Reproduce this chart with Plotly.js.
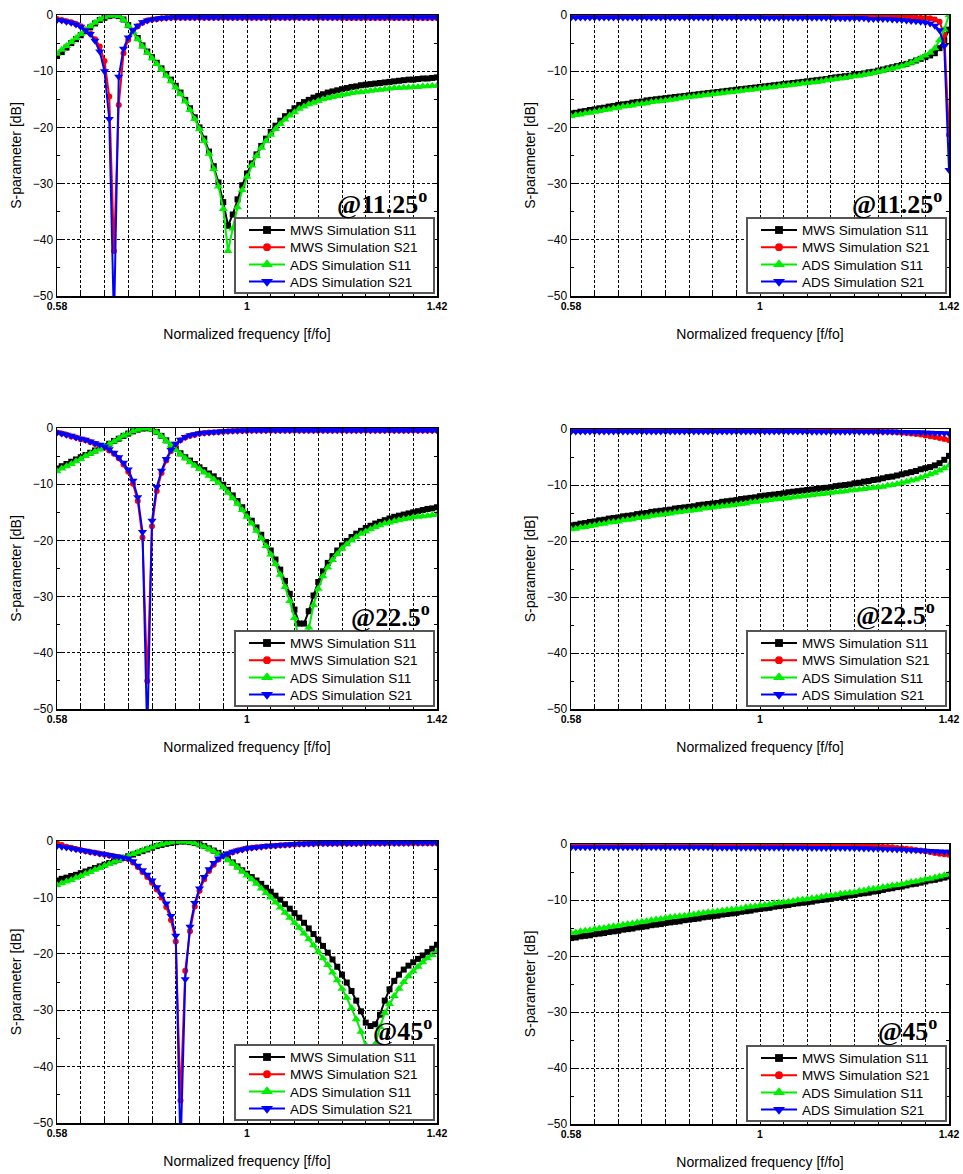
<!DOCTYPE html>
<html><head><meta charset="utf-8">
<script src="https://cdn.plot.ly/plotly-3.0.1.min.js"></script>
<style>html,body{margin:0;padding:0;background:#fff}#chart{width:963px;height:1174px}</style>
</head><body><div id="chart"></div>
<script>
// ---------------- DATA ----------------
const freq = [
0.58,0.5905,0.601,0.6115,0.622,0.6325,0.643,0.6535,0.664,0.6745,
0.685,0.6955,0.706,0.7165,0.727,0.7375,0.748,0.7585,0.769,0.7795,
0.79,0.8005,0.811,0.8215,0.832,0.8425,0.853,0.8635,0.874,0.8845,
0.895,0.9055,0.916,0.9265,0.937,0.9475,0.958,0.9685,0.979,0.9895,
1.0,1.0105,1.021,1.0315,1.042,1.0525,1.063,1.0735,1.084,1.0945,
1.105,1.1155,1.126,1.1365,1.147,1.1575,1.168,1.1785,1.189,1.1995,
1.21,1.2205,1.231,1.2415,1.252,1.2625,1.273,1.2835,1.294,1.3045,
1.315,1.3255,1.336,1.3465,1.357,1.3675,1.378,1.3885,1.399,1.4095,
1.42];
const freqTickVals = [0.58, 1, 1.42];
const freqTickText = ['<b>0.58</b>', '<b>1</b>', '<b>1.42</b>'];
const freqGridStep = 0.0525;
const seriesNames = ['MWS Simulation S11','MWS Simulation S21','ADS Simulation S11','ADS Simulation S21'];
const panelLabels = ['@11.25','@11.25','@22.5','@22.5','@45','@45'];

// Panel 1 : 11.25 deg (left)
const p1MwsS11 = [
-7.3,-6.6,-5.8,-5.0,-4.3,-3.6,-2.9,-2.2,-1.5,-0.9,
-0.5,-0.2,-0.05,-0.2,-0.8,-1.8,-2.8,-4.1,-5.4,-6.5,
-7.5,-8.5,-9.5,-10.5,-11.5,-12.6,-13.8,-15.1,-16.6,-18.2,
-20.0,-22.0,-24.3,-26.9,-29.8,-33.3,-37.5,-35.5,-32.8,-30.3,
-28.2,-26.4,-24.8,-23.3,-22.0,-20.8,-19.7,-18.8,-18.0,-17.3,
-16.6,-16.0,-15.5,-15.1,-14.7,-14.4,-14.1,-13.8,-13.6,-13.4,
-13.2,-13.0,-12.8,-12.7,-12.5,-12.4,-12.3,-12.2,-12.1,-12.0,
-11.9,-11.8,-11.7,-11.6,-11.5,-11.5,-11.4,-11.3,-11.3,-11.2,
-11.1];
const p1MwsS21 = [
-0.7,-0.9,-1.1,-1.3,-1.6,-2.0,-2.6,-3.3,-4.3,-5.6,
-8.2,-14.5,-42.0,-16.0,-6.8,-4.4,-2.9,-2.0,-1.4,-1.0,
-0.8,-0.7,-0.6,-0.55,-0.5,-0.5,-0.5,-0.5,-0.5,-0.5,
-0.5,-0.5,-0.5,-0.5,-0.5,-0.5,-0.5,-0.5,-0.5,-0.5,
-0.5,-0.5,-0.5,-0.5,-0.5,-0.5,-0.5,-0.5,-0.5,-0.5,
-0.5,-0.5,-0.5,-0.5,-0.5,-0.5,-0.5,-0.5,-0.5,-0.5,
-0.55,-0.55,-0.55,-0.55,-0.55,-0.55,-0.55,-0.55,-0.55,-0.55,
-0.55,-0.55,-0.55,-0.55,-0.55,-0.55,-0.55,-0.55,-0.55,-0.55,
-0.55];
const p1AdsS11 = [
-6.9,-6.2,-5.5,-4.8,-4.1,-3.4,-2.7,-2.0,-1.4,-0.8,
-0.4,-0.15,-0.05,-0.2,-0.9,-1.9,-3.0,-4.3,-5.6,-6.7,
-7.7,-8.7,-9.7,-10.8,-11.8,-12.9,-14.1,-15.4,-16.9,-18.5,
-20.3,-22.4,-24.7,-27.4,-30.5,-34.5,-42.0,-38.0,-34.2,-31.2,
-28.8,-26.8,-25.1,-23.6,-22.4,-21.3,-20.3,-19.4,-18.6,-17.9,
-17.3,-16.7,-16.3,-15.9,-15.6,-15.3,-15.0,-14.8,-14.6,-14.4,
-14.2,-14.1,-13.9,-13.8,-13.7,-13.6,-13.5,-13.4,-13.3,-13.2,
-13.1,-13.0,-13.0,-12.9,-12.9,-12.8,-12.8,-12.7,-12.7,-12.6,
-12.6];
const p1AdsS21 = [
-0.9,-1.0,-1.2,-1.4,-1.7,-2.1,-2.7,-3.4,-4.6,-6.5,
-10.0,-18.5,-55.0,-11.0,-6.0,-4.0,-2.7,-1.9,-1.3,-1.0,
-0.8,-0.65,-0.55,-0.5,-0.45,-0.4,-0.4,-0.4,-0.4,-0.4,
-0.4,-0.4,-0.4,-0.4,-0.4,-0.4,-0.4,-0.4,-0.4,-0.4,
-0.4,-0.4,-0.4,-0.4,-0.4,-0.4,-0.4,-0.4,-0.4,-0.4,
-0.4,-0.4,-0.4,-0.4,-0.4,-0.4,-0.4,-0.4,-0.4,-0.4,
-0.4,-0.4,-0.4,-0.4,-0.4,-0.4,-0.4,-0.4,-0.4,-0.4,
-0.4,-0.4,-0.4,-0.4,-0.4,-0.4,-0.4,-0.4,-0.4,-0.4,
-0.4];

// Panel 2 : 11.25 deg (right)
const p2MwsS11 = [
-17.5,-17.4,-17.2,-17.1,-16.9,-16.8,-16.6,-16.5,-16.3,-16.2,
-16.0,-15.9,-15.8,-15.6,-15.5,-15.4,-15.2,-15.1,-15.0,-14.9,
-14.8,-14.7,-14.6,-14.5,-14.4,-14.3,-14.2,-14.1,-14.0,-13.9,
-13.8,-13.7,-13.6,-13.5,-13.4,-13.3,-13.2,-13.1,-13.0,-12.9,
-12.8,-12.7,-12.6,-12.5,-12.4,-12.3,-12.2,-12.1,-12.0,-11.9,
-11.8,-11.7,-11.6,-11.5,-11.4,-11.2,-11.1,-11.0,-10.9,-10.8,
-10.6,-10.5,-10.4,-10.2,-10.1,-9.9,-9.7,-9.5,-9.3,-9.1,
-8.9,-8.7,-8.4,-8.1,-7.8,-7.5,-7.2,-6.8,-5.9,-4.5,
-2.6];
const p2MwsS21 = [
-0.3,-0.3,-0.3,-0.3,-0.3,-0.3,-0.3,-0.3,-0.3,-0.3,
-0.3,-0.3,-0.3,-0.3,-0.3,-0.3,-0.3,-0.3,-0.3,-0.3,
-0.3,-0.3,-0.3,-0.3,-0.3,-0.3,-0.3,-0.3,-0.3,-0.3,
-0.3,-0.3,-0.3,-0.3,-0.3,-0.3,-0.3,-0.3,-0.3,-0.3,
-0.3,-0.3,-0.3,-0.3,-0.3,-0.3,-0.3,-0.3,-0.3,-0.3,
-0.3,-0.3,-0.3,-0.3,-0.3,-0.3,-0.3,-0.3,-0.3,-0.3,
-0.3,-0.35,-0.35,-0.35,-0.35,-0.35,-0.35,-0.35,-0.35,-0.35,
-0.35,-0.4,-0.4,-0.45,-0.5,-0.55,-0.6,-0.8,-1.2,-3.5,
-21.3];
const p2AdsS11 = [
-18.0,-17.8,-17.7,-17.5,-17.4,-17.2,-17.1,-16.9,-16.8,-16.6,
-16.5,-16.3,-16.2,-16.1,-15.9,-15.8,-15.7,-15.5,-15.4,-15.3,
-15.2,-15.1,-15.0,-14.8,-14.7,-14.6,-14.5,-14.4,-14.3,-14.2,
-14.1,-14.0,-13.9,-13.8,-13.7,-13.6,-13.5,-13.4,-13.3,-13.2,
-13.1,-13.0,-12.9,-12.8,-12.7,-12.6,-12.5,-12.4,-12.3,-12.2,
-12.1,-12.0,-11.9,-11.8,-11.6,-11.5,-11.4,-11.3,-11.2,-11.0,
-10.9,-10.8,-10.6,-10.5,-10.3,-10.1,-9.9,-9.7,-9.5,-9.3,
-9.1,-8.8,-8.5,-8.1,-7.7,-7.2,-6.7,-5.9,-4.5,-2.6,
0.0];
const p2AdsS21 = [
-0.45,-0.45,-0.45,-0.45,-0.45,-0.45,-0.45,-0.45,-0.45,-0.45,
-0.45,-0.45,-0.45,-0.45,-0.45,-0.45,-0.45,-0.45,-0.45,-0.45,
-0.45,-0.45,-0.45,-0.45,-0.45,-0.45,-0.45,-0.45,-0.45,-0.45,
-0.45,-0.45,-0.45,-0.45,-0.45,-0.45,-0.45,-0.45,-0.45,-0.45,
-0.45,-0.5,-0.5,-0.5,-0.5,-0.5,-0.5,-0.5,-0.5,-0.5,
-0.5,-0.5,-0.5,-0.5,-0.5,-0.5,-0.6,-0.6,-0.6,-0.6,
-0.6,-0.6,-0.6,-0.7,-0.7,-0.7,-0.7,-0.7,-0.8,-0.85,
-0.9,-1.0,-1.05,-1.1,-1.2,-1.35,-1.5,-1.9,-2.7,-5.5,
-27.6];

// Panel 3 : 22.5 deg (left)
const p3MwsS11 = [
-7.2,-6.8,-6.4,-6.0,-5.6,-5.2,-4.8,-4.4,-4.0,-3.6,
-3.2,-2.8,-2.3,-1.9,-1.4,-1.0,-0.6,-0.3,-0.1,-0.05,
-0.2,-0.7,-1.4,-2.2,-3.0,-3.7,-4.5,-5.2,-5.8,-6.4,
-7.0,-7.5,-8.1,-8.6,-9.3,-10.1,-11.0,-12.0,-13.0,-14.1,
-15.3,-16.5,-17.7,-19.0,-20.3,-21.8,-23.4,-25.2,-27.2,-29.5,
-32.3,-34.8,-34.8,-32.6,-29.8,-27.4,-25.5,-24.0,-22.8,-21.8,
-20.9,-20.1,-19.4,-18.8,-18.3,-17.8,-17.4,-17.0,-16.7,-16.4,
-16.1,-15.8,-15.6,-15.4,-15.2,-15.0,-14.8,-14.6,-14.4,-14.3,
-14.1];
const p3MwsS21 = [
-0.8,-1.0,-1.2,-1.5,-1.7,-2.0,-2.2,-2.5,-2.8,-3.1,
-3.5,-4.0,-4.6,-5.4,-6.5,-7.8,-9.9,-13.0,-19.5,-45.0,
-17.5,-11.2,-8.0,-5.8,-4.1,-3.0,-2.2,-1.7,-1.4,-1.2,
-1.0,-0.9,-0.8,-0.75,-0.7,-0.65,-0.6,-0.55,-0.5,-0.5,
-0.5,-0.45,-0.45,-0.45,-0.45,-0.45,-0.45,-0.45,-0.45,-0.45,
-0.45,-0.45,-0.45,-0.45,-0.45,-0.45,-0.45,-0.45,-0.45,-0.45,
-0.45,-0.45,-0.45,-0.45,-0.45,-0.45,-0.45,-0.45,-0.45,-0.45,
-0.45,-0.45,-0.45,-0.45,-0.45,-0.45,-0.45,-0.45,-0.45,-0.45,
-0.45];
const p3AdsS11 = [
-7.7,-7.2,-6.8,-6.4,-5.9,-5.5,-5.0,-4.6,-4.2,-3.8,
-3.3,-2.9,-2.4,-1.9,-1.4,-1.0,-0.6,-0.3,-0.1,-0.05,
-0.3,-0.8,-1.5,-2.3,-3.1,-3.9,-4.7,-5.4,-6.1,-6.7,
-7.3,-7.9,-8.5,-9.1,-9.8,-10.6,-11.5,-12.5,-13.5,-14.6,
-15.8,-17.0,-18.3,-19.6,-21.0,-22.5,-24.2,-26.1,-28.3,-30.8,
-33.8,-38.0,-40.0,-35.5,-31.5,-28.6,-26.4,-24.8,-23.5,-22.4,
-21.5,-20.7,-20.0,-19.4,-18.8,-18.4,-18.0,-17.6,-17.3,-17.0,
-16.8,-16.6,-16.4,-16.2,-16.1,-15.9,-15.8,-15.7,-15.6,-15.5,
-15.4];
const p3AdsS21 = [
-0.8,-1.0,-1.2,-1.4,-1.7,-1.9,-2.1,-2.4,-2.7,-3.0,
-3.3,-3.8,-4.4,-5.2,-6.2,-7.4,-9.4,-12.3,-18.5,-55.0,
-16.5,-10.5,-7.6,-5.5,-3.9,-2.8,-2.1,-1.6,-1.3,-1.1,
-0.95,-0.85,-0.8,-0.7,-0.65,-0.6,-0.55,-0.5,-0.5,-0.45,
-0.45,-0.4,-0.4,-0.4,-0.4,-0.4,-0.4,-0.4,-0.4,-0.4,
-0.4,-0.4,-0.4,-0.4,-0.4,-0.4,-0.4,-0.4,-0.4,-0.4,
-0.4,-0.4,-0.4,-0.4,-0.4,-0.4,-0.4,-0.4,-0.4,-0.4,
-0.4,-0.4,-0.4,-0.4,-0.4,-0.4,-0.4,-0.4,-0.4,-0.4,
-0.4];

// Panel 4 : 22.5 deg (right)
const p4MwsS11 = [
-17.2,-17.1,-16.9,-16.8,-16.6,-16.5,-16.3,-16.2,-16.0,-15.9,
-15.8,-15.6,-15.5,-15.4,-15.2,-15.1,-15.0,-14.8,-14.7,-14.6,
-14.5,-14.4,-14.2,-14.1,-14.0,-13.9,-13.8,-13.6,-13.5,-13.4,
-13.3,-13.2,-13.0,-12.9,-12.8,-12.7,-12.5,-12.4,-12.3,-12.2,
-12.0,-11.9,-11.8,-11.7,-11.6,-11.5,-11.3,-11.2,-11.1,-11.0,
-10.9,-10.8,-10.7,-10.6,-10.5,-10.4,-10.2,-10.1,-10.0,-9.9,
-9.7,-9.6,-9.4,-9.3,-9.1,-9.0,-8.8,-8.6,-8.5,-8.3,
-8.1,-7.9,-7.7,-7.5,-7.2,-7.0,-6.8,-6.5,-6.1,-5.5,
-4.8];
const p4MwsS21 = [
-0.3,-0.3,-0.3,-0.3,-0.3,-0.3,-0.3,-0.3,-0.3,-0.3,
-0.3,-0.3,-0.3,-0.3,-0.3,-0.3,-0.3,-0.3,-0.3,-0.3,
-0.3,-0.3,-0.3,-0.3,-0.3,-0.3,-0.3,-0.3,-0.3,-0.3,
-0.3,-0.3,-0.3,-0.3,-0.3,-0.3,-0.3,-0.3,-0.3,-0.3,
-0.3,-0.3,-0.3,-0.3,-0.3,-0.3,-0.3,-0.3,-0.3,-0.3,
-0.3,-0.3,-0.3,-0.3,-0.3,-0.3,-0.3,-0.3,-0.3,-0.3,
-0.3,-0.35,-0.35,-0.4,-0.4,-0.45,-0.5,-0.5,-0.55,-0.6,
-0.65,-0.7,-0.8,-0.9,-1.0,-1.15,-1.3,-1.45,-1.6,-1.8,
-2.0];
const p4AdsS11 = [
-17.9,-17.8,-17.6,-17.5,-17.3,-17.2,-17.0,-16.9,-16.7,-16.6,
-16.5,-16.3,-16.2,-16.1,-15.9,-15.8,-15.7,-15.5,-15.4,-15.3,
-15.2,-15.1,-14.9,-14.8,-14.7,-14.6,-14.5,-14.4,-14.2,-14.1,
-14.0,-13.9,-13.8,-13.7,-13.6,-13.5,-13.4,-13.3,-13.1,-13.0,
-12.9,-12.8,-12.7,-12.6,-12.5,-12.4,-12.3,-12.2,-12.1,-12.0,
-11.9,-11.8,-11.7,-11.6,-11.5,-11.4,-11.3,-11.2,-11.1,-11.0,
-10.9,-10.8,-10.7,-10.6,-10.5,-10.4,-10.3,-10.1,-10.0,-9.8,
-9.6,-9.4,-9.2,-9.0,-8.7,-8.4,-8.1,-7.8,-7.4,-7.0,
-6.5];
const p4AdsS21 = [
-0.45,-0.45,-0.45,-0.45,-0.45,-0.45,-0.45,-0.45,-0.45,-0.45,
-0.45,-0.45,-0.45,-0.45,-0.45,-0.45,-0.45,-0.45,-0.45,-0.45,
-0.45,-0.45,-0.45,-0.45,-0.45,-0.45,-0.45,-0.45,-0.45,-0.45,
-0.45,-0.45,-0.45,-0.45,-0.45,-0.45,-0.45,-0.45,-0.45,-0.45,
-0.45,-0.45,-0.45,-0.45,-0.45,-0.45,-0.45,-0.45,-0.45,-0.45,
-0.5,-0.5,-0.5,-0.5,-0.5,-0.5,-0.5,-0.5,-0.5,-0.5,
-0.5,-0.5,-0.5,-0.5,-0.5,-0.5,-0.5,-0.5,-0.5,-0.5,
-0.55,-0.55,-0.6,-0.6,-0.6,-0.65,-0.65,-0.7,-0.7,-0.75,
-0.8];

// Panel 5 : 45 deg (left)
const p5MwsS11 = [
-7.0,-6.7,-6.5,-6.2,-6.0,-5.7,-5.4,-5.1,-4.8,-4.5,
-4.2,-3.9,-3.6,-3.3,-3.0,-2.7,-2.4,-2.1,-1.8,-1.5,
-1.2,-0.9,-0.7,-0.5,-0.35,-0.2,-0.1,-0.1,-0.2,-0.35,
-0.6,-0.9,-1.3,-1.7,-2.1,-2.6,-3.2,-3.8,-4.5,-5.2,
-5.8,-6.4,-7.0,-7.6,-8.3,-9.0,-9.7,-10.4,-11.2,-12.0,
-12.8,-13.6,-14.5,-15.5,-16.5,-17.5,-18.6,-19.8,-21.0,-22.3,
-23.7,-25.1,-26.6,-28.3,-30.2,-32.2,-32.8,-32.5,-30.8,-28.3,
-26.3,-24.8,-23.7,-22.8,-22.1,-21.5,-20.9,-20.3,-19.7,-19.1,
-18.4];
const p5MwsS21 = [
-0.4,-0.7,-1.0,-1.2,-1.4,-1.6,-1.8,-1.95,-2.1,-2.25,
-2.4,-2.55,-2.7,-2.85,-3.0,-3.2,-3.8,-4.6,-5.5,-6.4,
-7.4,-8.6,-10.0,-11.7,-14.0,-17.8,-46.0,-23.0,-16.0,-11.6,
-8.8,-6.8,-5.3,-4.2,-3.3,-2.7,-2.3,-2.0,-1.7,-1.5,
-1.3,-1.2,-1.1,-1.0,-0.95,-0.9,-0.85,-0.75,-0.7,-0.65,
-0.6,-0.55,-0.55,-0.5,-0.5,-0.45,-0.45,-0.45,-0.45,-0.45,
-0.45,-0.45,-0.45,-0.45,-0.4,-0.4,-0.4,-0.4,-0.4,-0.4,
-0.4,-0.4,-0.4,-0.4,-0.4,-0.4,-0.4,-0.4,-0.4,-0.4,
-0.4];
const p5AdsS11 = [
-7.8,-7.5,-7.2,-6.9,-6.5,-6.2,-5.8,-5.5,-5.1,-4.8,
-4.4,-4.1,-3.7,-3.4,-3.0,-2.7,-2.3,-2.0,-1.7,-1.4,
-1.1,-0.8,-0.6,-0.4,-0.25,-0.15,-0.1,-0.1,-0.2,-0.4,
-0.65,-1.0,-1.4,-1.8,-2.3,-2.8,-3.4,-4.0,-4.7,-5.4,
-6.1,-6.8,-7.6,-8.4,-9.2,-10.0,-10.9,-11.8,-12.7,-13.6,
-14.5,-15.4,-16.4,-17.4,-18.5,-19.6,-20.8,-22.0,-23.3,-24.7,
-26.2,-27.8,-29.6,-31.6,-33.8,-36.2,-39.0,-36.0,-33.0,-30.5,
-28.9,-27.5,-26.2,-25.0,-24.0,-23.1,-22.3,-21.5,-20.8,-20.2,
-19.6];
const p5AdsS21 = [
-0.9,-1.0,-1.15,-1.3,-1.45,-1.6,-1.75,-1.9,-2.05,-2.2,
-2.35,-2.5,-2.65,-2.8,-2.95,-3.1,-3.6,-4.4,-5.2,-6.0,
-7.0,-8.2,-9.5,-11.1,-13.3,-16.8,-55.0,-24.5,-15.2,-11.0,
-8.4,-6.4,-5.0,-3.9,-3.1,-2.6,-2.2,-1.9,-1.7,-1.5,
-1.3,-1.2,-1.1,-1.0,-0.9,-0.85,-0.8,-0.7,-0.65,-0.6,
-0.55,-0.5,-0.5,-0.45,-0.45,-0.4,-0.4,-0.4,-0.4,-0.4,
-0.4,-0.4,-0.4,-0.4,-0.4,-0.35,-0.35,-0.35,-0.35,-0.35,
-0.35,-0.35,-0.35,-0.35,-0.35,-0.3,-0.3,-0.3,-0.3,-0.3,
-0.3];

// Panel 6 : 45 deg (right)
const p6MwsS11 = [
-16.8,-16.7,-16.5,-16.4,-16.3,-16.1,-16.0,-15.9,-15.7,-15.6,
-15.5,-15.3,-15.2,-15.1,-14.9,-14.8,-14.7,-14.5,-14.4,-14.3,
-14.1,-14.0,-13.9,-13.8,-13.6,-13.5,-13.4,-13.3,-13.1,-13.0,
-12.9,-12.8,-12.6,-12.5,-12.4,-12.3,-12.1,-12.0,-11.9,-11.7,
-11.6,-11.5,-11.4,-11.2,-11.1,-11.0,-10.9,-10.7,-10.6,-10.5,
-10.4,-10.3,-10.1,-10.0,-9.9,-9.8,-9.6,-9.5,-9.4,-9.2,
-9.1,-8.9,-8.8,-8.7,-8.5,-8.4,-8.2,-8.0,-7.9,-7.7,
-7.6,-7.4,-7.2,-7.1,-6.9,-6.7,-6.5,-6.4,-6.2,-6.0,
-5.8];
const p6MwsS21 = [
-0.3,-0.3,-0.3,-0.3,-0.3,-0.3,-0.3,-0.3,-0.3,-0.3,
-0.3,-0.3,-0.3,-0.3,-0.3,-0.3,-0.3,-0.3,-0.3,-0.3,
-0.3,-0.3,-0.3,-0.3,-0.3,-0.3,-0.3,-0.3,-0.3,-0.3,
-0.3,-0.3,-0.3,-0.3,-0.3,-0.3,-0.3,-0.3,-0.3,-0.3,
-0.3,-0.3,-0.3,-0.3,-0.3,-0.3,-0.3,-0.3,-0.3,-0.3,
-0.3,-0.3,-0.3,-0.3,-0.3,-0.3,-0.3,-0.3,-0.3,-0.3,
-0.3,-0.3,-0.35,-0.35,-0.4,-0.45,-0.5,-0.55,-0.6,-0.7,
-0.75,-0.85,-0.95,-1.05,-1.15,-1.3,-1.45,-1.6,-1.75,-1.85,
-1.9];
const p6AdsS11 = [
-15.9,-15.8,-15.6,-15.5,-15.4,-15.2,-15.1,-15.0,-14.8,-14.7,
-14.6,-14.4,-14.3,-14.2,-14.0,-13.9,-13.8,-13.6,-13.5,-13.4,
-13.2,-13.1,-13.0,-12.9,-12.8,-12.7,-12.6,-12.4,-12.3,-12.2,
-12.1,-12.0,-11.9,-11.8,-11.7,-11.6,-11.5,-11.3,-11.2,-11.1,
-11.0,-10.9,-10.8,-10.6,-10.5,-10.4,-10.3,-10.2,-10.0,-9.9,
-9.8,-9.7,-9.6,-9.4,-9.3,-9.2,-9.1,-8.9,-8.8,-8.7,
-8.6,-8.4,-8.3,-8.1,-8.0,-7.9,-7.7,-7.6,-7.4,-7.3,
-7.2,-7.0,-6.8,-6.7,-6.5,-6.3,-6.2,-6.0,-5.8,-5.6,
-5.4];
const p6AdsS21 = [
-0.6,-0.6,-0.6,-0.6,-0.6,-0.6,-0.6,-0.6,-0.6,-0.6,
-0.6,-0.6,-0.6,-0.6,-0.6,-0.6,-0.6,-0.6,-0.6,-0.6,
-0.6,-0.6,-0.6,-0.6,-0.6,-0.6,-0.6,-0.6,-0.6,-0.6,
-0.65,-0.65,-0.65,-0.65,-0.65,-0.65,-0.65,-0.65,-0.65,-0.65,
-0.65,-0.65,-0.65,-0.65,-0.65,-0.65,-0.65,-0.65,-0.65,-0.65,
-0.7,-0.7,-0.7,-0.7,-0.7,-0.7,-0.7,-0.7,-0.7,-0.7,
-0.75,-0.75,-0.8,-0.8,-0.85,-0.85,-0.9,-0.9,-0.95,-1.0,
-1.0,-1.05,-1.1,-1.1,-1.15,-1.2,-1.25,-1.3,-1.35,-1.4,
-1.4];

// ---------------- BUILD ----------------
const W = 963, H = 1174;
const panelData = [
  [p1MwsS11, p1MwsS21, p1AdsS11, p1AdsS21],
  [p2MwsS11, p2MwsS21, p2AdsS11, p2AdsS21],
  [p3MwsS11, p3MwsS21, p3AdsS11, p3AdsS21],
  [p4MwsS11, p4MwsS21, p4AdsS11, p4AdsS21],
  [p5MwsS11, p5MwsS21, p5AdsS11, p5AdsS21],
  [p6MwsS11, p6MwsS21, p6AdsS11, p6AdsS21]
];
// plot-area boxes in pixels [left, right, top, bottom]
const boxes = [
  [57, 437, 15, 296], [571, 949, 15, 296],
  [57, 437, 428, 709], [571, 949, 429, 709],
  [57, 437, 841, 1123], [571, 949, 844, 1124]
];
const labelPos = [[429, 202], [944, 202], [432, 615], [937, 613], [434, 1029], [939, 1029]];
const styles = [
  {color: '#000000', symbol: 'square', size: 6},
  {color: '#ff0000', symbol: 'circle', size: 6},
  {color: '#00ee00', symbol: 'triangle-up', size: 8},
  {color: '#0000ff', symbol: 'triangle-down', size: 8}
];
const FONT = 'Liberation Sans, Arial, sans-serif';
const LEG_W = 201, LEG_H = 77, LEG_BW = 2;
const GRID = {gridcolor: '#000', gridwidth: 1, griddash: '3px,2px'};
const traces = [];
const layout = {
  width: W, height: H, margin: {l: 0, r: 0, t: 0, b: 0},
  paper_bgcolor: '#ffffff', plot_bgcolor: '#ffffff',
  showlegend: true, hovermode: false,
  font: {family: FONT, color: '#000'},
  annotations: []
};
panelData.forEach((series, p) => {
  const k = p === 0 ? '' : String(p + 1);
  const [l, r, t, b] = boxes[p];
  series.forEach((ys, s) => {
    traces.push({
      type: 'scatter', mode: 'lines+markers',
      x: freq, y: ys, name: seriesNames[s],
      xaxis: 'x' + k, yaxis: 'y' + k, legend: 'legend' + k,
      line: {color: styles[s].color, width: 2},
      marker: {color: styles[s].color, symbol: styles[s].symbol, size: styles[s].size}
    });
  });
  layout['xaxis' + k] = Object.assign({
    domain: [l / W, r / W], anchor: 'y' + k,
    range: [0.58, 1.42], tickmode: 'array', tickvals: freqTickVals, ticktext: freqTickText,
    ticks: 'inside', ticklen: 5, tickwidth: 1, tickcolor: '#000',
    minor: Object.assign({tick0: 0.58, dtick: freqGridStep, ticks: 'inside', ticklen: 5, tickwidth: 1, tickcolor: '#000', showgrid: true}, GRID),
    showline: true, linecolor: '#000', linewidth: 1.5, mirror: 'ticks',
    showgrid: true, zeroline: false,
    tickfont: {family: FONT, size: 10.5, color: '#000'},
    title: {text: 'Normalized frequency [f/fo]', font: {family: FONT, size: 14, color: '#000'}, standoff: 18}
  }, GRID);
  layout['yaxis' + k] = Object.assign({
    domain: [1 - b / H, 1 - t / H], anchor: 'x' + k,
    range: [-50, 0], tick0: 0, dtick: 10,
    ticks: 'inside', ticklen: 5, tickwidth: 1, tickcolor: '#000',
    minor: {dtick: 5, ticks: 'inside', ticklen: 3, tickcolor: '#000', showgrid: false},
    showline: true, linecolor: '#000', linewidth: 1.5, mirror: 'ticks',
    showgrid: true, zeroline: false,
    tickfont: {family: FONT, size: 12, color: '#000'},
    title: {text: 'S-parameter [dB]', font: {family: FONT, size: 14, color: '#000'}, standoff: 8}
  }, GRID);
  layout['legend' + k] = {
    x: (r - 2) / W, xanchor: 'right', y: 1 - (b - 2) / H, yanchor: 'bottom',
    bgcolor: '#ffffff', bordercolor: '#555555', borderwidth: LEG_BW,
    font: {family: FONT, size: 13.5, color: '#000'}, itemwidth: 40,
    tracegroupgap: 0
  };
  layout.annotations.push({
    xref: 'paper', yref: 'paper', x: labelPos[p][0] / W, y: 1 - labelPos[p][1] / H,
    xanchor: 'right', yanchor: 'middle', showarrow: false,
    text: '<b>' + panelLabels[p] + '<sup>o</sup></b>',
    font: {family: 'Liberation Serif, Times New Roman, serif', size: 26, color: '#000'}
  });
});

// compact the legend boxes to the reference's tighter row spacing
function compactLegends(gd) {
  boxes.forEach((bx, p) => {
    const id = p === 0 ? 'legend' : 'legend' + (p + 1);
    const g = gd.querySelector('g.' + id);
    if (!g) return;
    const left = bx[1] - LEG_W - 2, top = bx[3] - LEG_H - 2;
    g.setAttribute('transform', 'translate(' + left + ',' + top + ')');
    const bg = g.querySelector('rect.bg');
    if (bg) {
      bg.setAttribute('x', LEG_BW / 2); bg.setAttribute('y', LEG_BW / 2);
      bg.setAttribute('width', LEG_W - LEG_BW); bg.setAttribute('height', LEG_H - LEG_BW);
    }
    const sb = g.querySelector('g.scrollbox');
    if (sb) { sb.removeAttribute('clip-path'); sb.setAttribute('transform', 'translate(0,0)'); }
    g.querySelectorAll('g.traces').forEach((tr, i) => {
      tr.setAttribute('transform', 'translate(6,' + (13 + 17.2 * i) + ')');
      tr.querySelectorAll('g.legendlines path').forEach(pa => pa.setAttribute('d', 'M9,0h36'));
      tr.querySelectorAll('g.legendpoints path').forEach(pa => pa.setAttribute('transform', 'translate(27,0) scale(1.3)'));
    });
  });
}
Plotly.newPlot('chart', traces, layout, {displayModeBar: false, staticPlot: true}).then(compactLegends);
</script>
</body></html>
